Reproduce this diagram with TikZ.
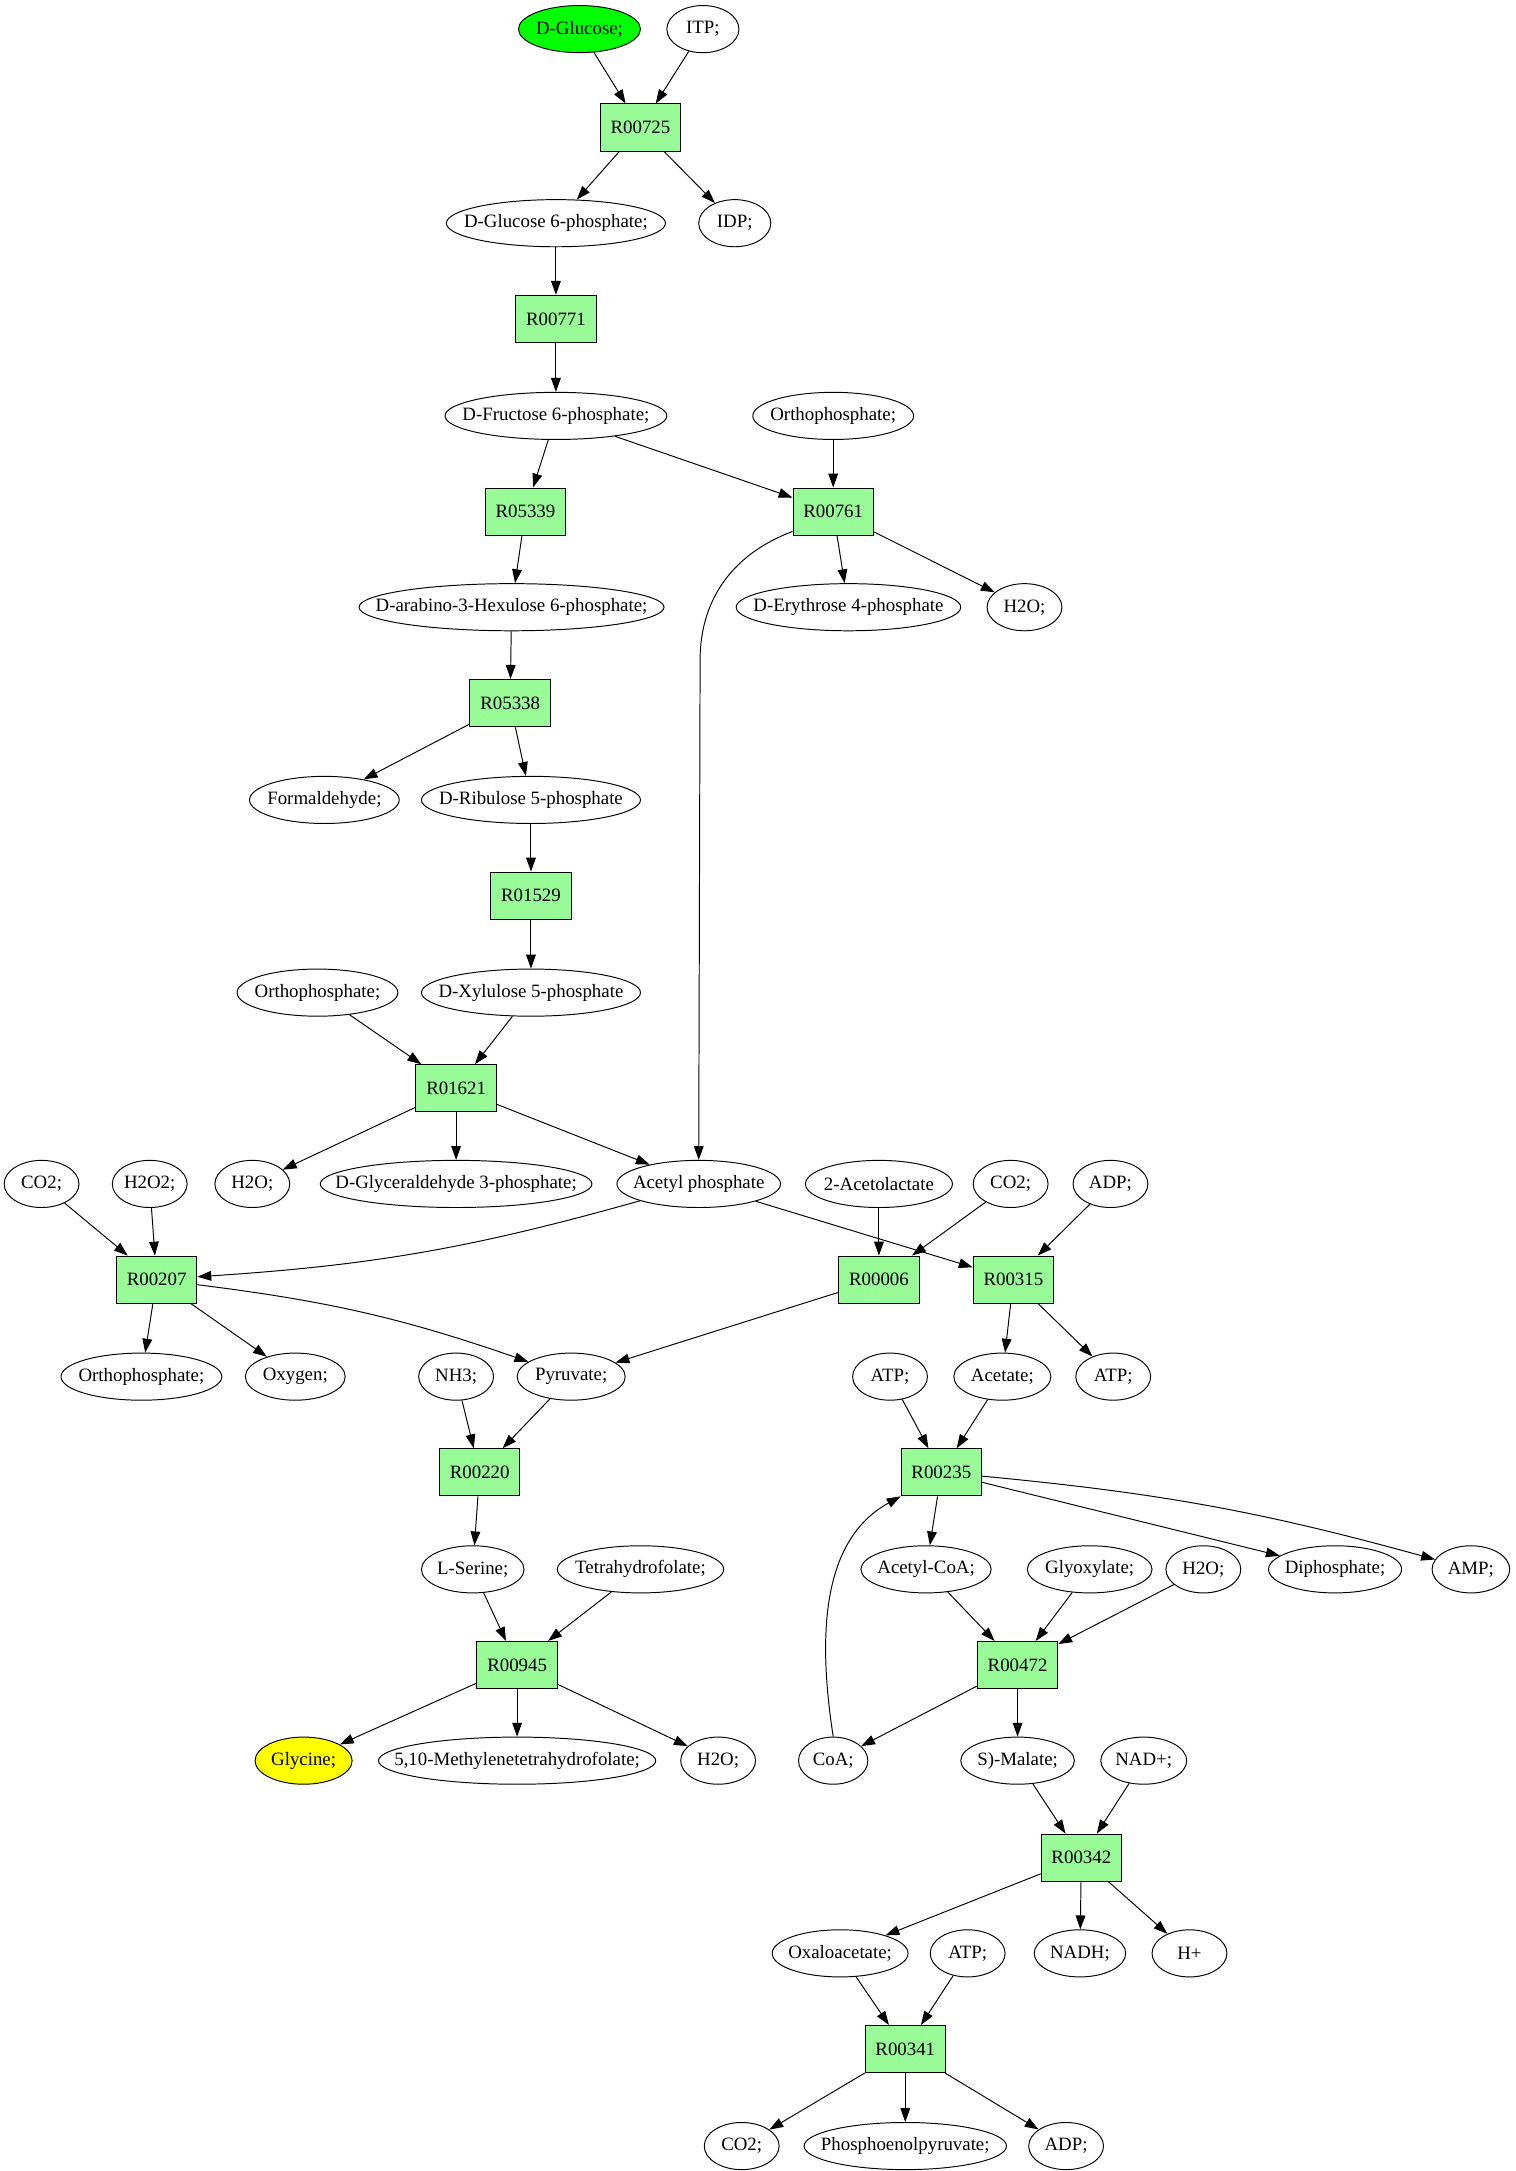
\documentclass[tikz,border=0pt]{standalone}
\usepackage{fontspec}
\setmainfont{Liberation Serif}
\usepackage{xcolor}
\usepackage{tikz}
\usetikzlibrary{arrows.meta,shapes.geometric}
\definecolor{palegreen}{HTML}{98FB98}
\definecolor{glcgreen}{HTML}{00FF00}
\definecolor{glyyellow}{HTML}{FFFF00}
\newcommand{\metlabel}[1]{\makebox[0pt]{#1}}

\begin{document}
\begin{tikzpicture}[x=1pt, y=-1pt,
    every node/.style={font=\fontsize{13.6}{16}\selectfont},
    met/.style={ellipse, draw, line width=0.7pt, inner sep=0pt, minimum height=34},
    rxn/.style={rectangle, draw, line width=0.7pt, fill=palegreen, inner sep=0pt,
                minimum width=58, minimum height=34},
    flow/.style={line width=0.7pt, -{Triangle[length=10pt, width=7pt]}}]
  \useasboundingbox (0,-1) rectangle (1093,1565);

  % ---- Metabolites ----
  \node[met, fill=glcgreen, minimum width=88] (glc) at (418,20) {\metlabel{D-Glucose;}};
  \node[met, fill=glyyellow, minimum width=70] (gly) at (219,1269) {\metlabel{Glycine;}};
  \foreach \nm/\x/\y/\w/\txt in {
      itp/507/20/52/{ITP;},
      g6p/401/160/158/{D-Glucose 6-phosphate;}, idp/530/160/52/{IDP;},
      f6p/401/299/160/{D-Fructose 6-phosphate;}, pia/601/299/116/{Orthophosphate;},
      hex/369/437/220/{D-arabino-3-Hexulose 6-phosphate;},
      eryp/612/437/162/{D-Erythrose 4-phosphate}, h2oa/739/437/54/{H2O;},
      hcho/234/576/108/{Formaldehyde;}, ru5p/383/576/158/{D-Ribulose 5-phosphate},
      pib/229/715/116/{Orthophosphate;}, xu5p/383/715/158/{D-Xylulose 5-phosphate},
      co2a/30/853/54/{CO2;}, h2o2/108/853/54/{H2O2;}, h2ob/182/853/54/{H2O;},
      gap/329/853/196/{D-Glyceraldehyde 3-phosphate;},
      acp/504/853/118/{Acetyl phosphate}, alac/634/853/106/{2-Acetolactate},
      co2b/729/853/54/{CO2;}, adpa/801/853/54/{ADP;},
      pic/102/992/116/{Orthophosphate;}, oxy/213/992/72/{Oxygen;},
      nh3/329/992/54/{NH3;}, pyr/412/992/78/{Pyruvate;},
      atpa/642/992/54/{ATP;}, ace/723/992/70/{Acetate;}, atpb/803/992/54/{ATP;},
      ser/341/1131/74/{L-Serine;}, thf/462/1131/120/{Tetrahydrofolate;},
      accoa/668/1131/94/{Acetyl-CoA;}, glx/786/1131/90/{Glyoxylate;},
      h2oc/868/1131/54/{H2O;}, ppi/963/1131/96/{Diphosphate;}, amp/1061/1131/56/{AMP;},
      mthf/373/1269/200/{5,10-Methylenetetrahydrofolate;}, h2od/518/1269/54/{H2O;},
      coa/601/1269/50/{CoA;}, mal/734/1269/82/{S)-Malate;}, nad/825/1269/62/{NAD+;},
      oaa/606/1408/98/{Oxaloacetate;}, atpc/698/1408/54/{ATP;},
      nadh/779/1408/66/{NADH;}, hplus/858/1408/54/{H+},
      co2c/535/1547/54/{CO2;}, pep/653/1547/146/{Phosphoenolpyruvate;}, adpb/769/1547/54/{ADP;}} {
    \node[met, minimum width=\w] (\nm) at (\x,\y) {\metlabel{\txt}};
  }

  % ---- Reactions ----
  \foreach \nm/\x/\y in {R00725/462/91, R00771/401/229, R05339/379/368, R00761/601/368,
      R05338/368/506, R01529/383/645, R01621/329/784, R00207/113/922, R00006/634/922,
      R00315/731/922, R00220/346/1061, R00235/679/1061, R00945/373/1200,
      R00472/734/1200, R00342/780/1339, R00341/653/1477} {
    \node[rxn] (\nm) at (\x,\y) {\nm};
  }

  % ---- Edges ----
  \foreach \a/\b in {glc/R00725, itp/R00725, R00725/g6p, R00725/idp, g6p/R00771,
      R00771/f6p, f6p/R05339, f6p/R00761, pia/R00761, R05339/hex, R00761/eryp,
      R00761/h2oa, hex/R05338, R05338/hcho, R05338/ru5p, ru5p/R01529, R01529/xu5p,
      pib/R01621, xu5p/R01621, R01621/h2ob, R01621/gap, R01621/acp, co2a/R00207,
      h2o2/R00207, acp/R00315, alac/R00006, co2b/R00006, adpa/R00315, R00207/pic,
      R00207/oxy, R00006/pyr, R00315/ace, R00315/atpb, nh3/R00220, pyr/R00220,
      atpa/R00235, ace/R00235, R00220/ser, R00235/accoa, R00235/ppi, ser/R00945,
      thf/R00945, accoa/R00472, glx/R00472, h2oc/R00472, R00945/gly, R00945/mthf,
      R00945/h2od, R00472/coa, R00472/mal, mal/R00342, nad/R00342, R00342/oaa,
      R00342/nadh, R00342/hplus, oaa/R00341, atpc/R00341, R00341/co2c, R00341/pep,
      R00341/adpb} {
    \draw[flow] (\a) -- (\b);
  }
  \draw[flow] (acp) to[bend left=6] (R00207);
  \draw[flow] (R00207) to[bend left=6] (pyr);
  \draw[flow] (R00235) to[bend left=5] (amp);

  % long curved edges
  \draw[flow] ([yshift=3pt]R00761.south west) .. controls (525,400) and (505,435) .. (505,475) -- (acp.north);
  \draw[flow] (coa.north) .. controls (590,1180) and (592,1110) .. (R00235.south west);
\end{tikzpicture}
\end{document}
